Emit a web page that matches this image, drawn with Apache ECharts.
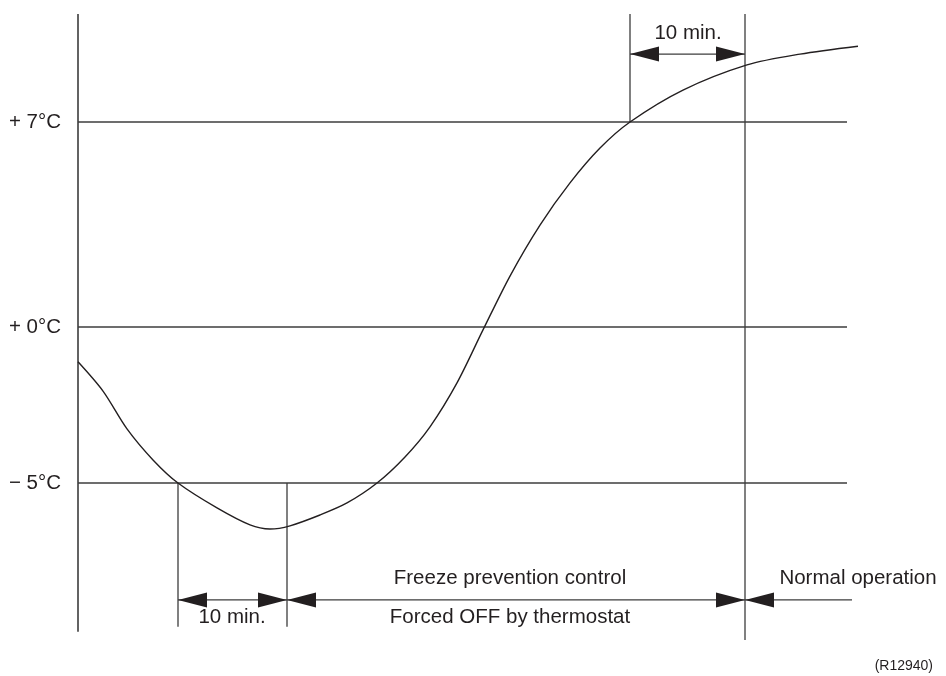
<!DOCTYPE html>
<html>
<head>
<meta charset="utf-8">
<script src="https://cdn.jsdelivr.net/npm/echarts@6/dist/echarts.min.js"></script>
<style>
  html, body { margin: 0; padding: 0; background: #fff; }
  #chart { width: 946px; height: 676px; }
</style>
</head>
<body>
<div id="chart"></div>
<script>
// schematic units: x in 1/10 px-ish time units, y in degC (diagram scale)
const curveX = [0, 2.5, 4.9, 7.5, 10.0, 13.9, 17.2, 19.2, 21.2, 24.2, 26.9, 29.9, 32.7, 35.2, 37.9, 40.5, 43.2, 46.2, 49.2, 52.2, 55.2, 60.5, 66.9, 72.2, 78.0]
const curveT = [-1.19, -2.19, -3.48, -4.54, -5.33, -6.18, -6.76, -6.90, -6.79, -6.42, -6.01, -5.33, -4.44, -3.41, -1.91, -0.10, 1.74, 3.48, 4.92, 6.11, 7.00, 8.09, 8.95, 9.32, 9.59]

const levelValues = [7, 0, -5.33]
const levelLabels = ['+ 7°C', '+ 0°C', '− 5°C']
const levelEnd = 76.9

// time markers (vertical guides)
const markX = [10.0, 20.9, 55.2, 66.7]

const yTop = 10.69, yBottom = -10.69
const arrowTopY = 9.32, arrowBotY = -9.32

const textFont = '20.5px "Liberation Sans", Arial, sans-serif'
const ink = '#231f20'
const guide = '#3c3c3c'

function renderNotes (params, api) {
	const P = (x, y) => api.coord([x, y])
	const kids = []
	const line = (a, b, w) => {
		kids.push({ type: 'line', shape: { x1: a[0], y1: a[1], x2: b[0], y2: b[1] },
			style: { stroke: guide, lineWidth: w || 1.4 } })
	}
	// filled arrow head, tip at p, dir -1 = points left, 1 = points right
	const head = (p, dir) => {
		const len = 29, half = 7.5
		kids.push({ type: 'polygon', shape: { points: [p, [p[0] - dir * len, p[1] - half], [p[0] - dir * len, p[1] + half]] },
			style: { fill: ink } })
	}
	const text = (s, p, align) => {
		kids.push({ type: 'text', x: p[0], y: p[1],
			style: { text: s, fill: ink, font: textFont, align: align || 'center', verticalAlign: 'middle' } })
	}

	// axis
	line(P(0, yTop), P(0, -10.41), 1.6)

	// levels
	levelValues.forEach((v, i) => {
		line(P(0, v), P(levelEnd, v), 1.5)
		const p = P(0, v)
		text(levelLabels[i], [p[0] - 17, p[1]], 'right')
	})

	// vertical guides
	line(P(markX[0], levelValues[2]), P(markX[0], -10.24), 1.3)
	line(P(markX[1], levelValues[2]), P(markX[1], -10.24), 1.3)
	line(P(markX[2], yTop), P(markX[2], levelValues[0]), 1.3)
	line(P(markX[3], yTop), P(markX[3], yBottom), 1.3)

	// top 10 min.
	line(P(markX[2], arrowTopY), P(markX[3], arrowTopY), 1.3)
	head(P(markX[2], arrowTopY), -1)
	head(P(markX[3], arrowTopY), 1)
	text('10 min.', P(61.0, 10.04))

	// bottom 10 min.
	line(P(markX[0], arrowBotY), P(markX[1], arrowBotY), 1.3)
	head(P(markX[0], arrowBotY), -1)
	head(P(markX[1], arrowBotY), 1)
	text('10 min.', P(15.4, -9.90))

	// freeze prevention span
	line(P(markX[1], arrowBotY), P(markX[3], arrowBotY), 1.3)
	head(P(markX[1], arrowBotY), -1)
	head(P(markX[3], arrowBotY), 1)
	text('Freeze prevention control', P(43.2, -8.60))
	text('Forced OFF by thermostat', P(43.2, -9.90))

	// normal operation
	line(P(markX[3], arrowBotY), P(77.4, arrowBotY), 1.3)
	head(P(markX[3], arrowBotY), -1)
	text('Normal operation', P(78.0, -8.60))

	return { type: 'group', children: kids }
}

const chart = echarts.init(document.getElementById('chart'))
chart.setOption({
	animation: false,
	backgroundColor: '#fff',
	title: {
		text: '(R12940)', right: 8, top: 654,
		textStyle: { fontSize: 14, fontWeight: 'normal', color: ink, fontFamily: '"Liberation Sans", Arial, sans-serif' }
	},
	grid: { left: 78, right: 88, top: 14, bottom: 36 },
	xAxis: { type: 'value', min: 0, max: 78, show: false },
	yAxis: { type: 'value', min: yBottom, max: yTop, show: false },
	series: [
		{
			type: 'custom',
			renderItem: renderNotes,
			data: [[0, 0]],
			silent: true,
			clip: false,
			z: 1
		},
		{
			type: 'line',
			data: curveX.map((x, i) => [x, curveT[i]]),
			smooth: 0.3,
			showSymbol: false,
			lineStyle: { color: ink, width: 1.4 },
			z: 2
		}
	]
})
</script>
</body>
</html>
